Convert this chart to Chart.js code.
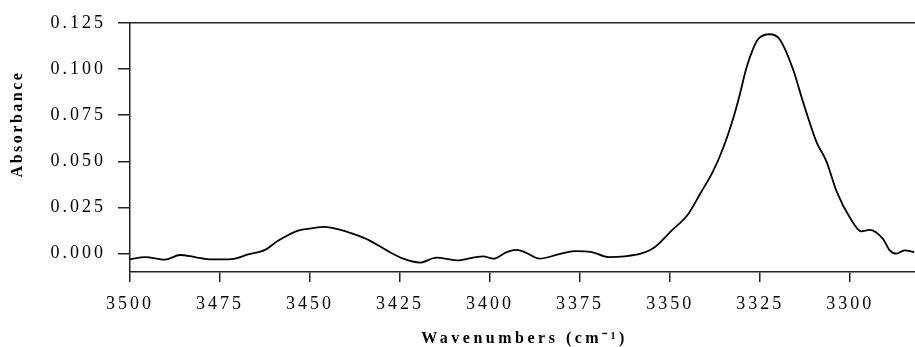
<!DOCTYPE html>
<html>
<head>
<meta charset="utf-8">
<script src="https://cdn.jsdelivr.net/npm/chart.js@4"></script>
<style>
  html, body { margin: 0; padding: 0; background: #fff; }
  #wrap { width: 915px; height: 347px; }
</style>
</head>
<body>
<div id="wrap"><canvas id="spectrum" width="915" height="347"></canvas></div>
<script>
// 波数 (cm-1) と吸光度
const wavenumbers = [
  3500, 3495.8, 3490.3, 3486.1, 3482, 3477.3, 3471.8, 3467.2, 3462.5, 3458.8,
  3453.3, 3449.6, 3446, 3442.6, 3438, 3433.4, 3428.7, 3424.1, 3419.5, 3414.9,
  3409.3, 3404.7, 3401.9, 3399.1, 3395.4, 3392.5, 3390.4, 3386.2, 3381.1, 3376.5,
  3371.8, 3367.2, 3362.6, 3358.2, 3354.3, 3349.6, 3345, 3341.5, 3338.1, 3335.3,
  3332.5, 3330.7, 3328.9, 3327, 3325.6, 3322.3, 3319.6, 3315.9, 3313.1, 3309.4,
  3306.6, 3303.8, 3300.1, 3296.9, 3294.6, 3290.9, 3289, 3287.2, 3284.9, 3282.2
];
const absorbance = [
  -0.0031, -0.0018, -0.0032, -0.0007, -0.0018, -0.0031, -0.0029, -0.0004, 0.0021, 0.0071,
  0.0125, 0.0137, 0.0145, 0.0134, 0.0107, 0.0071, 0.0018, -0.0027, -0.0048, -0.0021,
  -0.0036, -0.0021, -0.0014, -0.0027, 0.0009, 0.0021, 0.0009, -0.0027, -0.0004, 0.0014,
  0.0009, -0.0018, -0.0014, 0.0, 0.0035, 0.0125, 0.0214, 0.033, 0.0446, 0.0571,
  0.0732, 0.0858, 0.1, 0.1107, 0.1161, 0.1188, 0.1161, 0.1, 0.0822, 0.0607,
  0.05, 0.0339, 0.0196, 0.0121, 0.0129, 0.008, 0.0018, 0.0, 0.0018, 0.0009
];
const xTicks = [3300, 3325, 3350, 3375, 3400, 3425, 3450, 3475, 3500];
const yTicks = [0, 0.025, 0.05, 0.075, 0.1, 0.125];

const points = wavenumbers.map((w, i) => ({ x: w, y: absorbance[i] }));

const serif = 'Liberation Serif';
const ink = '#000';

// 文字間隔、上の枠線、軸タイトル
const framePlugin = {
  id: 'frame',
  beforeDraw(chart) {
    chart.ctx.letterSpacing = '3px';
  },
  afterDraw(chart) {
    const { ctx, chartArea: { left, right, top } } = chart;
    ctx.save();
    ctx.strokeStyle = '#222';
    ctx.lineWidth = 1.5;
    ctx.beginPath();
    ctx.moveTo(left, top);
    ctx.lineTo(right, top);
    ctx.stroke();

    ctx.fillStyle = ink;
    ctx.textAlign = 'center';
    ctx.textBaseline = 'middle';

    // 横軸タイトル
    ctx.letterSpacing = '3.5px';
    ctx.font = 'bold 16px "Liberation Serif"';
    ctx.fillText('Wavenumbers (cm⁻¹)', (left + right) / 2 + 2, 339);

    // 縦軸タイトル
    ctx.letterSpacing = '2.5px';
    ctx.translate(18, 125);
    ctx.rotate(-Math.PI / 2);
    ctx.fillText('Absorbance', 1, 0);
    ctx.restore();
  }
};

new Chart(document.getElementById('spectrum'), {
  type: 'line',
  data: {
    datasets: [{
      data: points,
      borderColor: '#000',
      borderWidth: 1.8,
      pointRadius: 0,
      fill: false,
      cubicInterpolationMode: 'monotone'
    }]
  },
  options: {
    responsive: false,
    animation: false,
    layout: { padding: { top: 20, right: 0, left: 0, bottom: 0 } },
    plugins: {
      legend: { display: false },
      tooltip: { enabled: false }
    },
    scales: {
      x: {
        type: 'linear',
        reverse: true,
        min: 3282,
        max: 3500,
        afterBuildTicks: (s) => { s.ticks = xTicks.map(v => ({ value: v })); },
        afterFit: (s) => { s.height = 75; },
        grid: { drawOnChartArea: false, drawTicks: true, tickLength: 10, color: '#222', lineWidth: 1.5 },
        border: { display: true, color: '#222', width: 1.5 },
        ticks: {
          color: ink,
          padding: 11,
          maxRotation: 0,
          font: { family: serif, size: 18 },
          callback: (v) => String(v)
        },
        title: { display: false }
      },
      y: {
        min: -0.0099,
        max: 0.125,
        afterBuildTicks: (s) => { s.ticks = yTicks.map(v => ({ value: v })); },
        afterFit: (s) => { s.width = 130; },
        grid: { drawOnChartArea: false, drawTicks: true, tickLength: 12, color: '#222', lineWidth: 1.5 },
        border: { display: true, color: '#222', width: 1.5 },
        ticks: {
          color: ink,
          padding: 12,
          font: { family: serif, size: 18 },
          callback: (v) => v.toFixed(3)
        },
        title: { display: false }
      }
    }
  },
  plugins: [framePlugin]
});
</script>
</body>
</html>
